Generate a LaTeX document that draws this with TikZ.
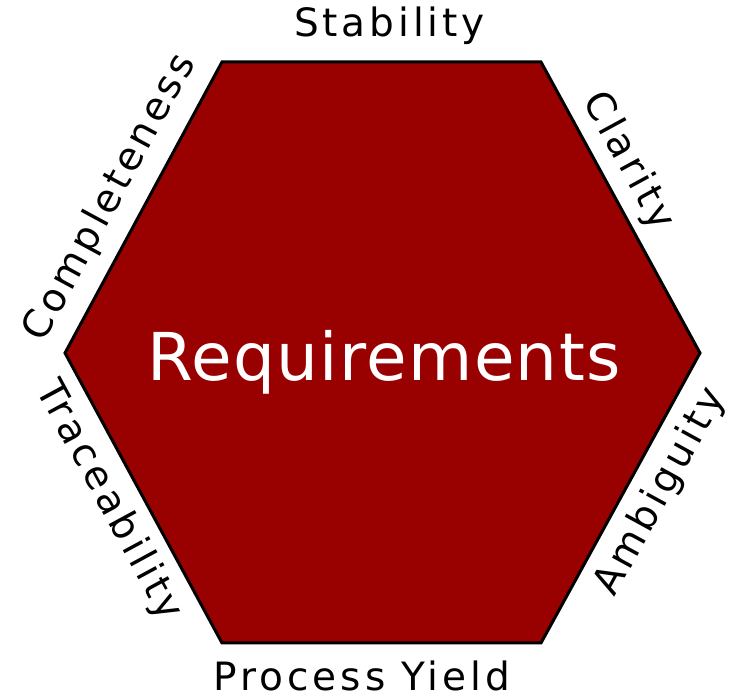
\documentclass[tikz,border=0pt]{standalone}
\usepackage{fontspec}
\setmainfont{DejaVu Sans}
\newfontfamily\sidefont[LetterSpace=10]{DejaVu Sans}
\newfontfamily\reqfont[LetterSpace=2]{DejaVu Sans}
\usetikzlibrary{calc}
\definecolor{reqred}{HTML}{990000}

\begin{document}
\begin{tikzpicture}[x=1pt,y=1pt]
	\useasboundingbox (0,0) rectangle (731,699);
	\coordinate (TL) at (222,637);
	\coordinate (TR) at (541,637);
	\coordinate (R) at (700,346);
	\coordinate (BR) at (541,56);
	\coordinate (BL) at (222,56);
	\coordinate (L) at (65,346);

	\draw[line width=3pt,fill=reqred,line join=miter] (TL) -- (TR) -- (R) -- (BR) -- (BL) -- (L) -- cycle;
	\node[anchor=base,inner sep=0pt,text=white,font=\reqfont\fontsize{66}{66}\selectfont] (req) at (384,318) {Requirements};

	\begin{scope}[every node/.style={anchor=base,inner sep=0pt,font=\sidefont\fontsize{39}{39}\selectfont}]
		\node (stab) at ($(TL)!0.525!(TR)+(0,25)$) {Stability};
		\node[rotate=-61.4] (clar) at ($(TR)!0.39!(R)!18pt!90:(R)$) {Clarity};
		\node[rotate=61.3] (ambi) at ($(BR)!0.575!(R)!43pt!-90:(R)$) {Ambiguity};
		\node (proc) at ($(BL)!0.439!(BR)+(0,-47)$) {Process Yield};
		\node[rotate=-61.6] (trac) at ($(L)!0.458!(BL)!43pt!-90:(BL)$) {Traceability};
		\node[rotate=61.6] (comp) at ($(L)!0.478!(TL)!23pt!90:(TL)$) {Completeness};
	\end{scope}
\end{tikzpicture}
\end{document}
